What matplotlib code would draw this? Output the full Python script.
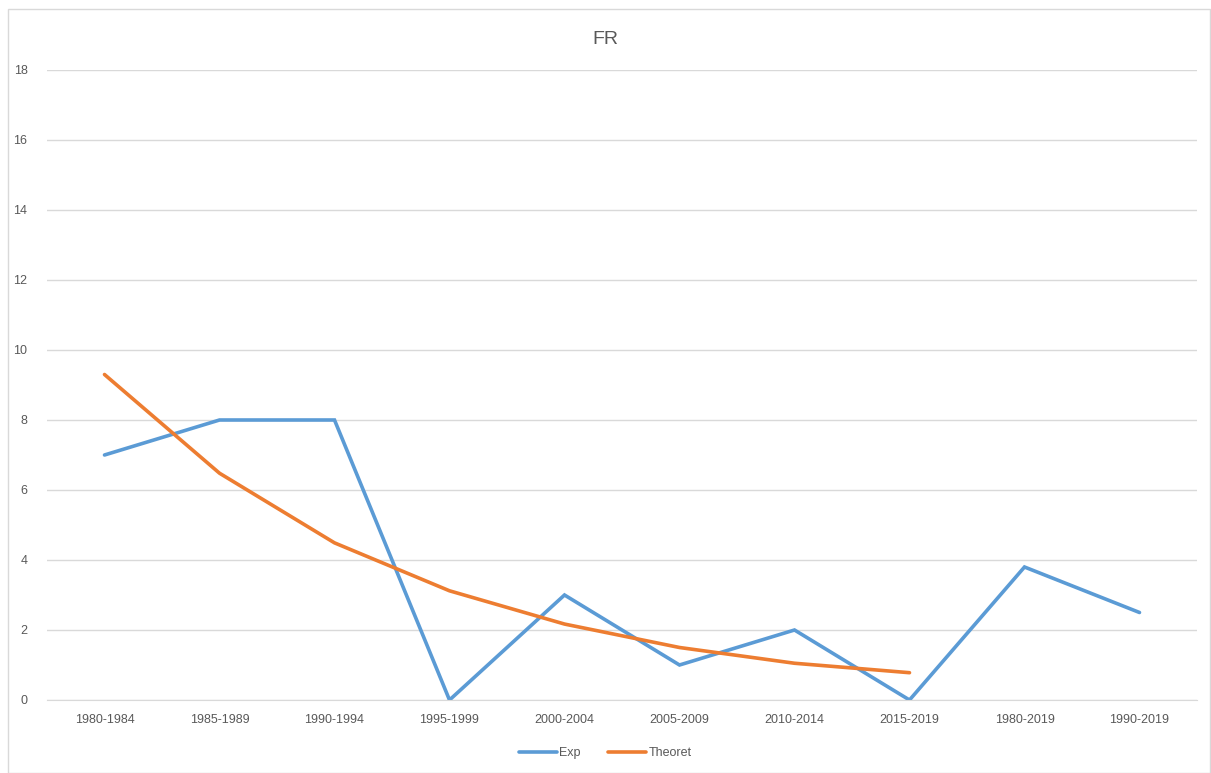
import matplotlib
matplotlib.use("Agg")
import matplotlib.pyplot as plt
from matplotlib.patches import Rectangle

periods = ["1980-1984", "1985-1989", "1990-1994", "1995-1999", "2000-2004",
           "2005-2009", "2010-2014", "2015-2019", "1980-2019", "1990-2019"]
exp_vals = [7, 8, 8, 0, 3, 1, 2, 0, 3.8, 2.5]
theoret_vals = [9.3, 6.48, 4.49, 3.12, 2.17, 1.5, 1.05, 0.78]

plt.rcParams['font.family'] = ['Liberation Sans', 'DejaVu Sans']

fig = plt.figure(figsize=(12.11, 7.73), dpi=100)
fig.patches.append(Rectangle((8 / 1211, 0), 1 - 9 / 1211, 1 - 9 / 773, transform=fig.transFigure,
                             fill=False, edgecolor='#d9d9d9', linewidth=1))
ax = fig.add_axes([47 / 1211, 73 / 773, 1150 / 1211, 630 / 773])

x = list(range(len(periods)))
ax.plot(x, exp_vals, color='#5b9bd5', lw=2.6, label='Exp', solid_capstyle='round', solid_joinstyle='miter')
ax.plot(x[:len(theoret_vals)], theoret_vals, color='#ed7d31', lw=2.6, label='Theoret',
        solid_capstyle='round', solid_joinstyle='miter')

ax.set_xlim(-0.5, len(periods) - 0.5)
ax.set_ylim(0, 18)
ax.set_yticks(range(0, 19, 2))
ax.set_xticks(x)
ax.set_xticklabels(periods)
ax.grid(axis='y', color='#d9d9d9', lw=1)
ax.set_axisbelow(True)
for s in ['top', 'right', 'left']:
    ax.spines[s].set_visible(False)
ax.spines['bottom'].set_color('#d9d9d9')
ax.tick_params(length=0, labelsize=9, colors='#595959', pad=10)
ax.tick_params(axis='y', pad=14)

fig.text(0.5, 1 - 40 / 773, 'FR', ha='center', va='center', fontsize=14, color='#595959')
fig.legend(loc='center', bbox_to_anchor=(0.5, 1 - 753 / 773), ncol=2, frameon=False,
           fontsize=9, labelcolor='#595959', handlelength=3.0, handletextpad=0.2, columnspacing=2.2)

fig.savefig('out.png', dpi=100)
